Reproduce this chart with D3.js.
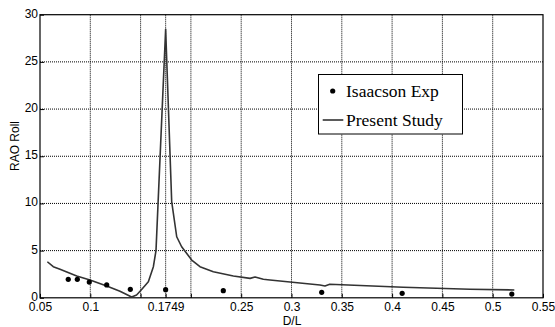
<!DOCTYPE html>
<html>
<head>
<meta charset="utf-8">
<script src="https://cdn.jsdelivr.net/npm/d3@7"></script>
<style>
body { margin: 0; background: #fff; }
svg { display: block; }
</style>
</head>
<body>
<svg id="chart" width="555" height="327"></svg>
<script>
// Data
const expDL  = [0.0781, 0.0871, 0.099, 0.1163, 0.1398, 0.1749, 0.2322, 0.33, 0.41, 0.519];
const expRAO = [1.96, 1.96, 1.67, 1.36, 0.9, 0.86, 0.75, 0.58, 0.47, 0.4];

const studyDL  = [0.0573, 0.0632, 0.0699, 0.0865, 0.0997, 0.1163, 0.1295, 0.1411, 0.146, 0.1506, 0.1577, 0.1627, 0.1653, 0.1749, 0.1809, 0.1859, 0.1908, 0.2008, 0.209, 0.2223, 0.2422, 0.2588, 0.2638, 0.272, 0.2786, 0.3283, 0.3333, 0.338, 0.411, 0.4775, 0.5215];
const studyRAO = [3.82, 3.3, 3.02, 2.31, 1.89, 1.25, 0.69, 0.08, 0.3, 0.83, 1.71, 3.3, 5.0, 28.45, 10.2, 6.47, 5.41, 4.0, 3.3, 2.77, 2.31, 2.06, 2.2, 1.96, 1.88, 1.36, 1.25, 1.43, 1.11, 0.9, 0.83];

const xTicks = [0.05, 0.1, 0.15, 0.1749, 0.2, 0.25, 0.3, 0.35, 0.4, 0.45, 0.5, 0.55];
const xTickLabels = ["0.05", "0.1", "", "0.1749", "", "0.25", "0.3", "0.35", "0.4", "0.45", "0.5", "0.55"];
const yTicks = [0, 5, 10, 15, 20, 25, 30];
const legendLabels = ["Isaacson Exp", "Present Study"];

const svg = d3.select("#chart");
const L = 40, R = 543, T = 14.7, B = 297.8;
const x = d3.scaleLinear().domain([0.05, 0.55]).range([L, R]);
const y = d3.scaleLinear().domain([0, 30]).range([B, T]);

// Grid
const grid = svg.append("g");
grid.selectAll("line.vg").data(xTicks.slice(1, -1)).join("line")
  .attr("x1", d => x(d)).attr("x2", d => x(d)).attr("y1", T).attr("y2", B)
  .attr("stroke", "#000").attr("stroke-width", 1).attr("stroke-dasharray", "1,1");
grid.selectAll("line.hg").data(yTicks.slice(1, -1)).join("line")
  .attr("x1", L).attr("x2", R).attr("y1", d => y(d)).attr("y2", d => y(d))
  .attr("stroke", "#000").attr("stroke-width", 1).attr("stroke-dasharray", "1,1");

// Axes
const xAxis = d3.axisBottom(x).tickValues(xTicks).tickSize(-4).tickPadding(5)
  .tickFormat((d, i) => xTickLabels[i]);
const gx = svg.append("g").attr("transform", `translate(0,${B})`).call(xAxis);
const yAxis = d3.axisLeft(y).tickValues(yTicks).tickSize(-4).tickPadding(6).tickFormat(d3.format("d"));
const gy = svg.append("g").attr("transform", `translate(${L},0)`).call(yAxis);
[gx, gy].forEach(g => {
  g.select(".domain").remove();
  g.selectAll("text").attr("font-family", "Liberation Sans, Arial, sans-serif").attr("font-size", 12).attr("fill", "#000");
  g.selectAll("line").attr("stroke", "#000");
});
gy.selectAll("text").attr("dx", 4).attr("dy", "0.2em");

// Frame
svg.append("rect").attr("x", L).attr("y", T).attr("width", R - L).attr("height", B - T)
  .attr("fill", "none").attr("stroke", "#000").attr("stroke-width", 1.2);

// Line
const lineData = studyDL.map((d, i) => [d, studyRAO[i]]);
svg.append("path").datum(lineData)
  .attr("d", d3.line().x(d => x(d[0])).y(d => y(d[1])))
  .attr("fill", "none").attr("stroke", "#333").attr("stroke-width", 1.6).attr("stroke-linejoin", "round");

// Points
svg.selectAll("circle.exp").data(expDL.map((d, i) => [d, expRAO[i]])).join("circle")
  .attr("cx", d => x(d[0])).attr("cy", d => y(d[1])).attr("r", 2.6).attr("fill", "#000");

// Labels
svg.append("text").attr("x", 292).attr("y", 325).attr("text-anchor", "middle")
  .attr("font-family", "Liberation Sans, Arial, sans-serif").attr("font-size", 12).text("D/L");
svg.append("text").attr("transform", "translate(19,146) rotate(-90)").attr("text-anchor", "middle")
  .attr("font-family", "Liberation Sans, Arial, sans-serif").attr("font-size", 12).text("RAO Roll");

// Legend
const lg = svg.append("g");
lg.append("rect").attr("x", 318.5).attr("y", 74.5).attr("width", 144).attr("height", 59.5)
  .attr("fill", "#fff").attr("stroke", "#000").attr("stroke-width", 1);
lg.append("circle").attr("cx", 332.7).attr("cy", 91).attr("r", 2.6).attr("fill", "#000");
lg.append("line").attr("x1", 322.7).attr("x2", 343.3).attr("y1", 120).attr("y2", 120)
  .attr("stroke", "#333").attr("stroke-width", 1.6);
lg.selectAll("text").data(legendLabels).join("text")
  .attr("x", 346).attr("y", (d, i) => 96.5 + i * 29)
  .attr("font-family", "Liberation Serif, Times New Roman, serif").attr("font-size", 17.5).attr("fill", "#000")
  .text(d => d);
</script>
</body>
</html>
